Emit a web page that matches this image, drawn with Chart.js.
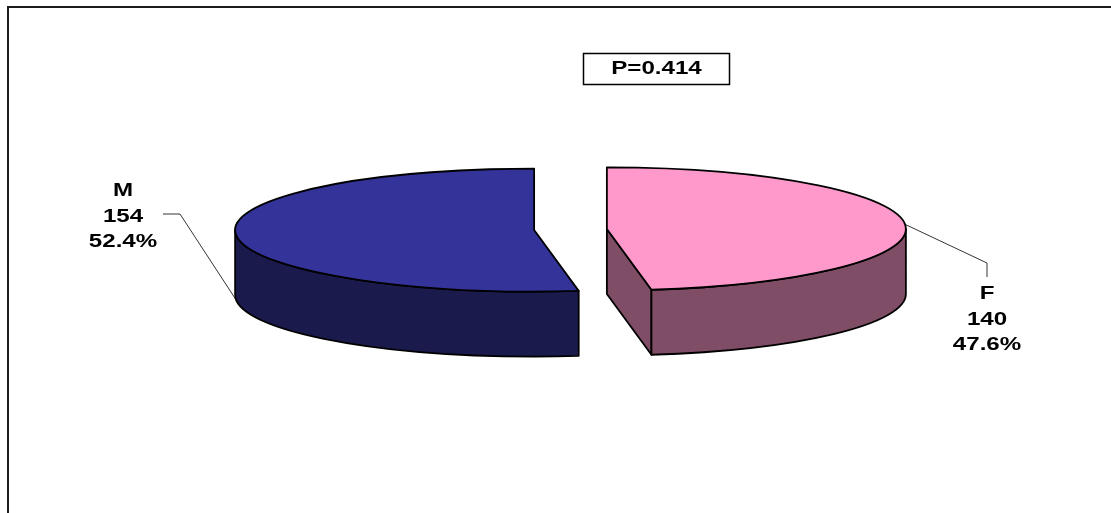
<!DOCTYPE html>
<html>
<head>
<meta charset="utf-8">
<title>Sex distribution</title>
<script src="https://cdn.jsdelivr.net/npm/chart.js@4.4.1/dist/chart.umd.min.js"></script>
<style>
  html, body { margin: 0; padding: 0; background: #fff; overflow: hidden; }
  canvas { display: block; }
</style>
</head>
<body>
<canvas id="chart" width="1111" height="513"></canvas>
<script>
// Data
const categories = ['F', 'M'];
const counts = [140, 154];
const topColors = ['#FF99CC', '#333399'];
const sideColors = ['#804D66', '#1A1A4D'];
const pValueLabel = 'P=0.414';

const TAU = Math.PI * 2;
const total = counts.reduce((a, b) => a + b, 0);

// Parts of [s, e] that lie on the front half of the ellipse (sin a > 0)
function frontRanges(s, e) {
  const out = [];
  for (let k = -2; k <= 2; k++) {
    const lo = Math.max(s, k * TAU);
    const hi = Math.min(e, k * TAU + Math.PI);
    if (hi > lo) out.push([lo, hi]);
  }
  return out;
}

// Draws stretched bold text (wide Arial look)
function wideText(ctx, text, x, y, o) {
  ctx.save();
  ctx.translate(x, y);
  ctx.scale(o.textStretch, 1);
  ctx.font = o.font;
  ctx.fillStyle = '#000';
  ctx.textAlign = 'center';
  ctx.textBaseline = 'alphabetic';
  ctx.fillText(text, 0, 0);
  ctx.restore();
}

// Slice geometry projected as an exploded, tilted 3D pie
function sliceGeometry(arc, o) {
  const p = arc.getProps(['x', 'y', 'startAngle', 'endAngle'], true);
  const m = (p.startAngle + p.endAngle) / 2;
  const cx = p.x + o.explode * o.rx * Math.cos(m);
  const cy = p.y + o.explode * o.ry * Math.sin(m);
  return { cx, cy, s: p.startAngle, e: p.endAngle, m };
}

const pie3d = {
  id: 'pie3d',
  beforeDraw(chart) {
    const ctx = chart.ctx;
    ctx.save();
    ctx.fillStyle = '#fff';
    ctx.fillRect(0, 0, chart.width, chart.height);
    // plot frame
    ctx.strokeStyle = '#1c1c1c';
    ctx.lineWidth = 2;
    ctx.beginPath();
    ctx.moveTo(8, chart.height + 4);
    ctx.lineTo(8, 7);
    ctx.lineTo(chart.width + 4, 7);
    ctx.stroke();
    ctx.restore();
  },
  beforeDatasetsDraw(chart, args, o) {
    const ctx = chart.ctx;
    const meta = chart.getDatasetMeta(0);
    const d = o.depth;
    ctx.save();
    ctx.lineJoin = 'round';
    ctx.strokeStyle = '#000';
    ctx.lineWidth = o.edgeWidth;
    meta.data.forEach((arc, i) => {
      const g = sliceGeometry(arc, o);
      const { cx, cy, s, e } = g;
      const P = (a, dz = 0) => [cx + o.rx * Math.cos(a), cy + o.ry * Math.sin(a) + dz];
      const side = sideColors[i];

      // radial cut faces facing the viewer
      [[s, s - Math.PI / 2], [e, e + Math.PI / 2]].forEach(([a, normal]) => {
        if (Math.sin(normal) <= 1e-3) return;
        const t = P(a), b = P(a, d);
        ctx.beginPath();
        ctx.moveTo(cx, cy);
        ctx.lineTo(t[0], t[1]);
        ctx.lineTo(b[0], b[1]);
        ctx.lineTo(cx, cy + d);
        ctx.closePath();
        ctx.fillStyle = side;
        ctx.fill();
        ctx.stroke();
      });

      // outer wall
      frontRanges(s, e).forEach(([a1, a2]) => {
        ctx.beginPath();
        ctx.ellipse(cx, cy, o.rx, o.ry, 0, a1, a2, false);
        ctx.ellipse(cx, cy + d, o.rx, o.ry, 0, a2, a1, true);
        ctx.closePath();
        ctx.fillStyle = side;
        ctx.fill();
        ctx.stroke();
      });

      // top face
      ctx.beginPath();
      ctx.moveTo(cx, cy);
      ctx.ellipse(cx, cy, o.rx, o.ry, 0, s, e, false);
      ctx.closePath();
      ctx.fillStyle = arc.options.backgroundColor;
      ctx.fill();
      ctx.stroke();
    });
    ctx.restore();
    return false;
  },
  afterDraw(chart, args, o) {
    const ctx = chart.ctx;
    const meta = chart.getDatasetMeta(0);

    // leader lines and data labels
    meta.data.forEach((arc, i) => {
      const c = o.callouts[i];
      const g = sliceGeometry(arc, o);
      const dz = c.anchor === 'bottom' ? o.depth : 0;
      const ax = g.cx + o.rx * Math.cos(g.m);
      const ay = g.cy + o.ry * Math.sin(g.m) + dz;
      ctx.save();
      ctx.strokeStyle = '#000';
      ctx.lineWidth = 0.8;
      ctx.beginPath();
      ctx.moveTo(c.path[0][0], c.path[0][1]);
      c.path.slice(1).forEach(pt => ctx.lineTo(pt[0], pt[1]));
      ctx.lineTo(ax, ay);
      ctx.stroke();
      ctx.restore();

      const pct = (counts[i] / total * 100).toFixed(1) + '%';
      [categories[i], String(counts[i]), pct].forEach((t, k) => {
        wideText(ctx, t, c.x, c.y + k * o.lineGap, o);
      });
    });

    // p-value box
    const b = o.pBox;
    ctx.save();
    ctx.fillStyle = '#fff';
    ctx.fillRect(b.x, b.y, b.w, b.h);
    ctx.strokeStyle = '#000';
    ctx.lineWidth = 1.5;
    ctx.strokeRect(b.x, b.y, b.w, b.h);
    ctx.restore();
    wideText(ctx, pValueLabel, b.x + b.w / 2, b.y + 20, o);
  }
};

new Chart(document.getElementById('chart'), {
  type: 'pie',
  data: {
    labels: categories,
    datasets: [{
      data: counts,
      backgroundColor: topColors,
      borderWidth: 0
    }]
  },
  options: {
    responsive: false,
    animation: false,
    devicePixelRatio: 1,
    layout: { padding: { left: 30, right: 0, top: 0, bottom: 54 } },
    plugins: {
      legend: { display: false },
      tooltip: { enabled: false },
      pie3d: {
        rx: 299,
        ry: 61.5,
        depth: 65,
        explode: 0.122,
        edgeWidth: 1.8,
        font: 'bold 18px "Liberation Sans", Arial, sans-serif',
        textStretch: 1.34,
        lineGap: 25.5,
        callouts: [
          { x: 987, y: 299, anchor: 'top', path: [[987, 277], [987, 263]] },
          { x: 123, y: 196, anchor: 'bottom', path: [[163, 214], [180, 214]] }
        ],
        pBox: { x: 583.5, y: 53.5, w: 146, h: 31 }
      }
    }
  },
  plugins: [pie3d]
});
</script>
</body>
</html>
